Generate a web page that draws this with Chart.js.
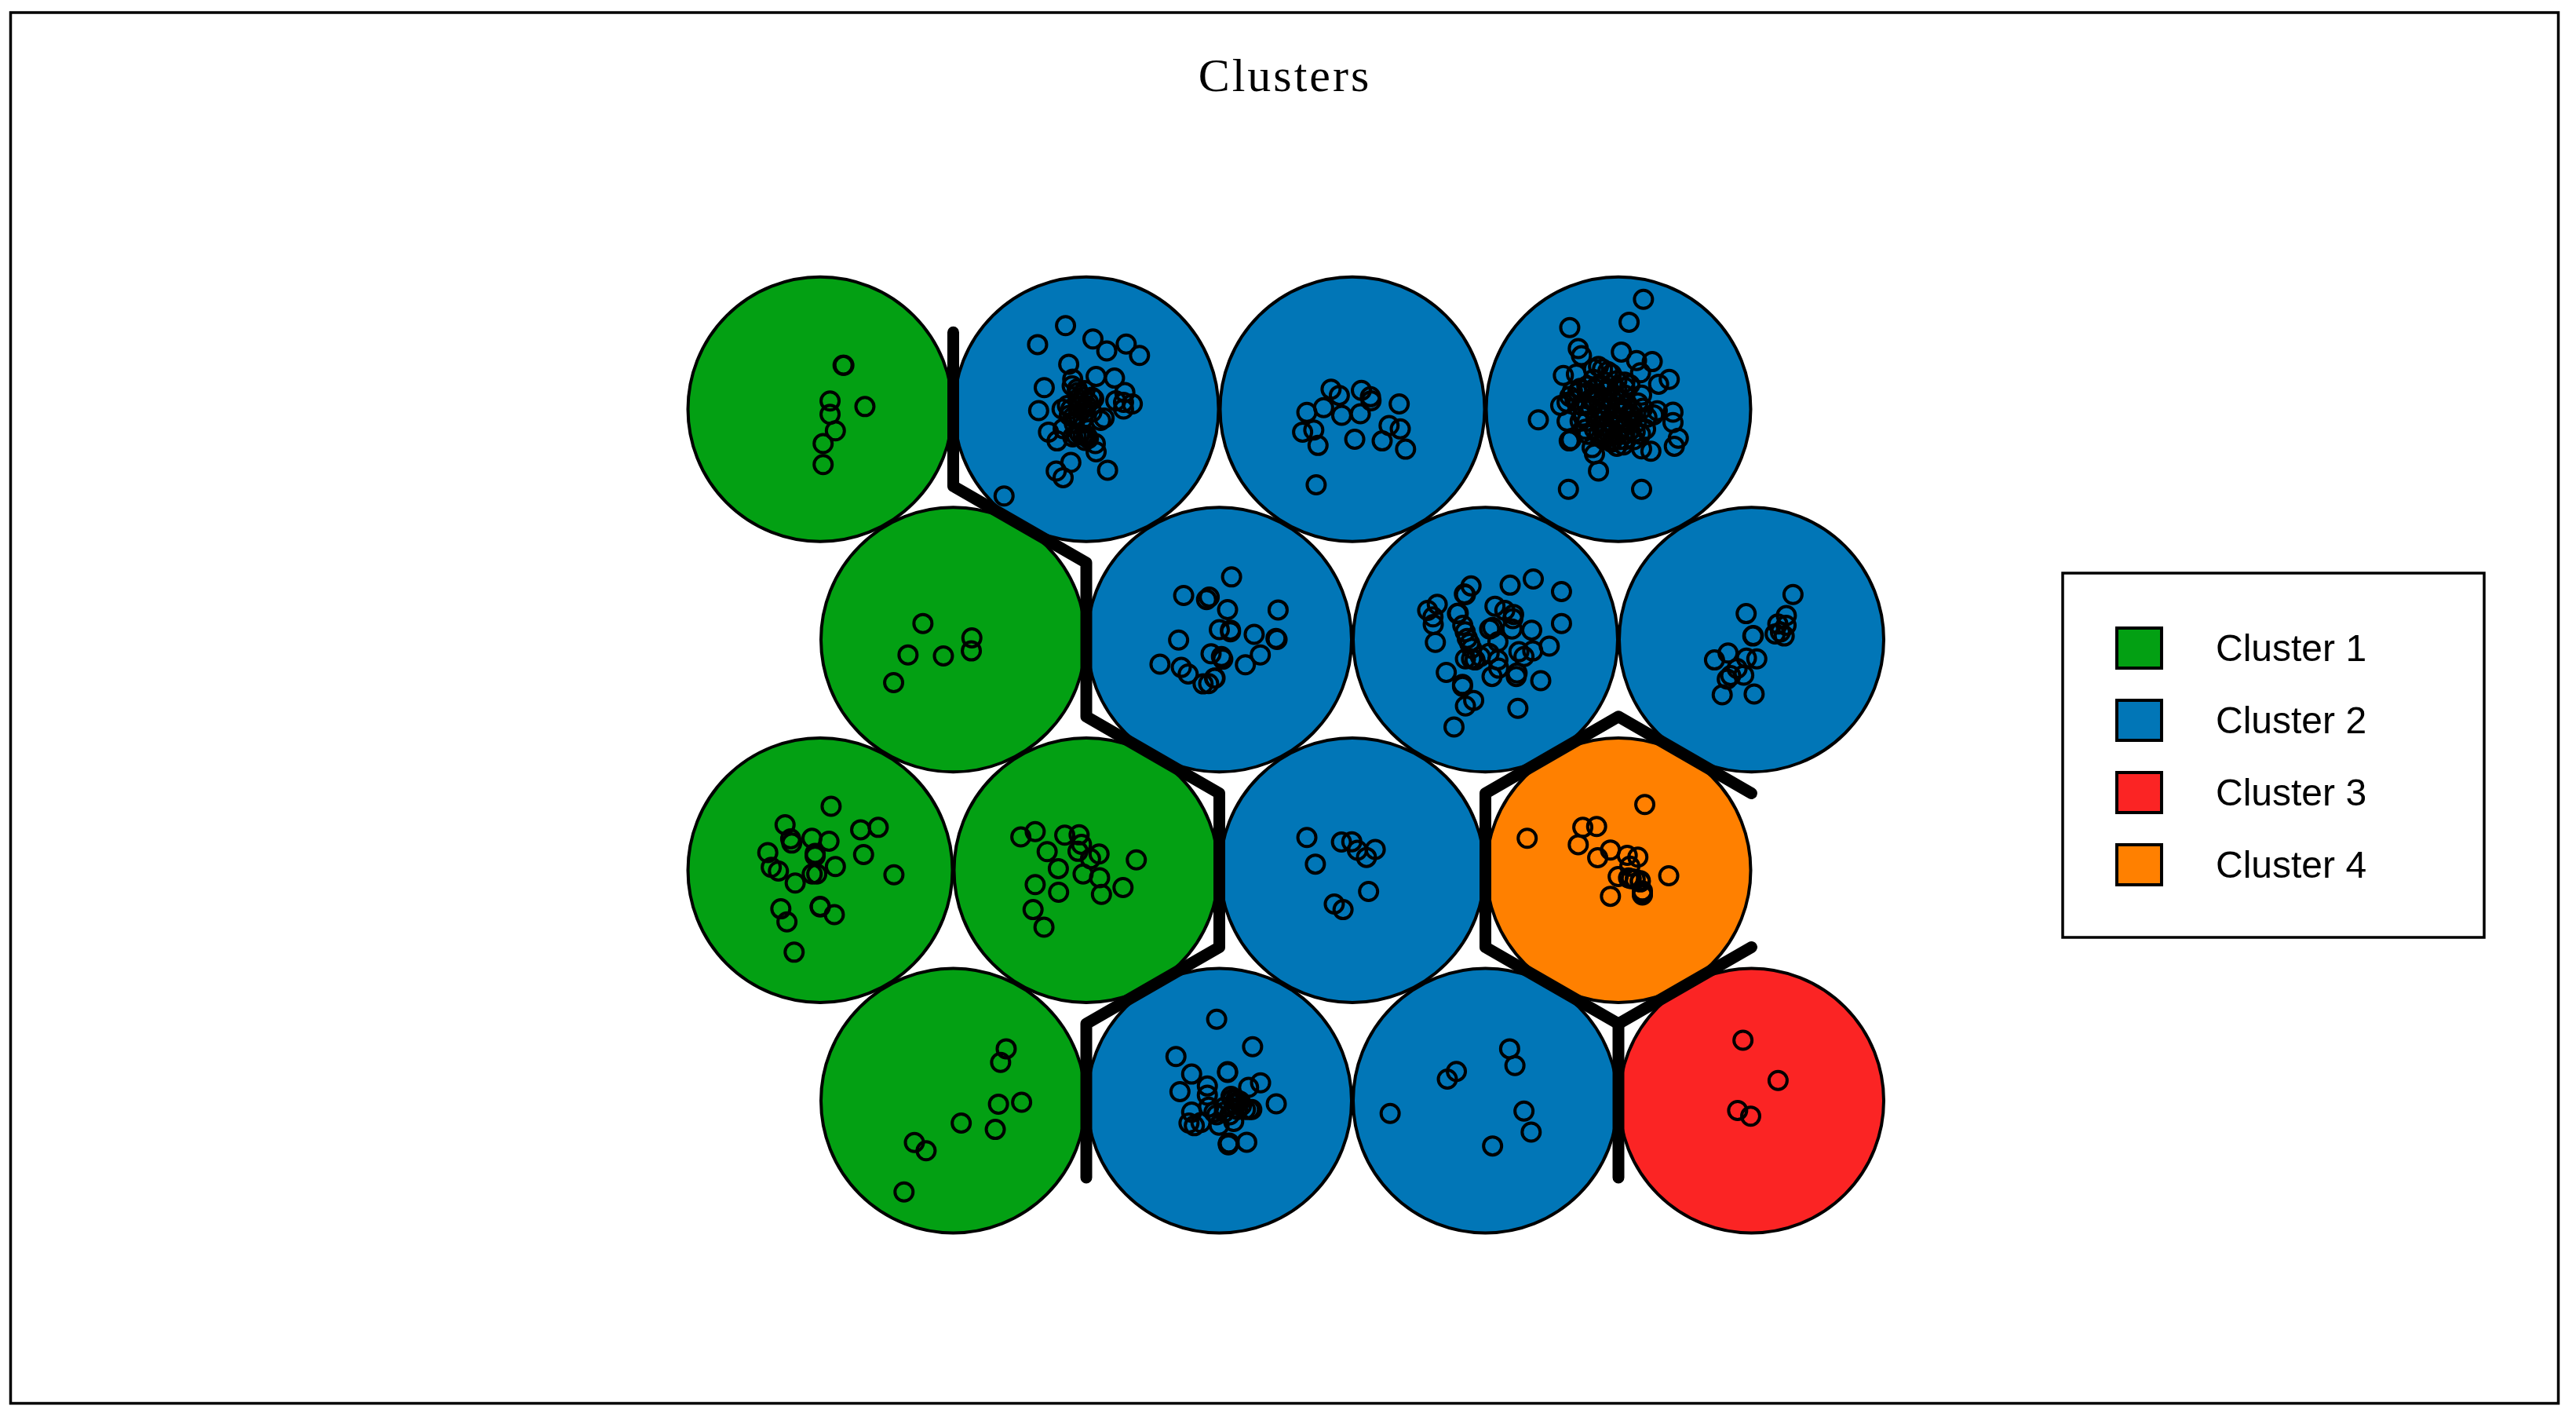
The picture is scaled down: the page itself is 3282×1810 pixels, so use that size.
<!DOCTYPE html>
<html>
<head>
<meta charset="utf-8">
<title>Clusters</title>
<script src="https://cdn.jsdelivr.net/npm/chart.js@4"></script>
<style>
  html, body { margin: 0; padding: 0; background: #fff; }
  canvas { display: block; }
</style>
</head>
<body>
<canvas id="som" width="3282" height="1810"></canvas>
<script>
// SOM grid, map units in hex coordinates
const unitX = [1, 2, 3, 4, 1.5, 2.5, 3.5, 4.5, 1, 2, 3, 4, 1.5, 2.5, 3.5, 4.5];
const unitY = [3.464, 3.464, 3.464, 3.464, 2.598, 2.598, 2.598, 2.598, 1.732, 1.732, 1.732, 1.732, 0.866, 0.866, 0.866, 0.866];
const unitCluster = [0, 1, 1, 1, 0, 1, 1, 1, 0, 0, 1, 3, 0, 1, 1, 2];

const clusterNames = ['Cluster 1', 'Cluster 2', 'Cluster 3', 'Cluster 4'];
const clusterColors = ['#03a013', '#0176b7', '#fb2424', '#ff8000'];

// cluster boundaries
const boundaryLeftX = [1.5, 1.5, 2, 2, 2.5, 2.5, 2, 2];
const boundaryLeftY = [3.753, 3.175, 2.887, 2.309, 2.021, 1.443, 1.155, 0.577];
const boundaryRightX = [4.5, 4, 3.5, 3.5, 4, 4.5];
const boundaryRightY = [2.021, 2.309, 2.021, 1.443, 1.155, 1.443];
const boundaryStemX = [4, 4];
const boundaryStemY = [1.155, 0.577];

// observations mapped to each unit
const samplesR1A = [[1.089,3.629],[1.086,3.629],[1.037,3.495],[1.037,3.445],[1.168,3.474],[1.057,3.383],[1.011,3.335],[1.011,3.256]];
const samplesR1B = [[1.922,3.778],[1.817,3.707],[2.025,3.728],[2.077,3.683],[2.150,3.709],[2.200,3.666],[1.934,3.633],[2.037,3.587],[2.106,3.581],[1.842,3.545],[1.947,3.552],[1.969,3.527],[1.821,3.459],[1.909,3.465],[1.942,3.465],[1.988,3.509],[2.021,3.509],[2.028,3.503],[1.982,3.478],[1.995,3.453],[2.008,3.490],[1.969,3.441],[1.949,3.434],[2.111,3.496],[2.145,3.527],[2.140,3.490],[2.140,3.465],[2.173,3.484],[2.067,3.431],[2.054,3.422],[1.988,3.428],[1.858,3.378],[1.913,3.391],[1.890,3.345],[1.962,3.366],[1.988,3.366],[2.001,3.366],[2.034,3.335],[2.037,3.304],[1.942,3.264],[1.887,3.232],[1.913,3.207],[2.080,3.235],[1.691,3.138],
  [1.949,3.577],[1.966,3.540],[1.995,3.534],[1.929,3.478],[1.936,3.441],[1.955,3.410],[1.975,3.490],[2.001,3.478],[2.021,3.453],[1.975,3.372],[1.995,3.347],[1.949,3.360],[2.008,3.354],[1.969,3.503],[1.988,3.465]];
const samplesR1C = [[2.920,3.539],[2.951,3.516],[2.892,3.470],[2.829,3.452],[2.855,3.386],[2.813,3.378],[2.871,3.328],[2.960,3.441],[3.030,3.447],[3.034,3.535],[3.068,3.511],[3.070,3.496],[3.176,3.484],[3.138,3.403],[3.180,3.390],[3.112,3.345],[3.009,3.351],[3.200,3.314],[2.864,3.180]];
const samplesR1D = [[4.094,3.877],[4.040,3.791],[3.817,3.771],[3.849,3.692],[3.861,3.665],[4.011,3.679],[3.925,3.625],[4.068,3.647],[4.127,3.643],[4.083,3.601],[3.793,3.591],[3.842,3.596],[4.191,3.576],[4.151,3.558],[3.960,3.606],[3.817,3.512],[4.087,3.517],[3.783,3.478],[3.807,3.490],[3.807,3.419],[3.699,3.424],[3.822,3.350],[3.815,3.345],[3.901,3.320],[3.910,3.296],[3.925,3.232],[3.812,3.163],[4.087,3.163],[4.205,3.453],[4.205,3.414],[4.225,3.355],[4.210,3.325],[4.087,3.315],[4.122,3.306],[3.994,3.325],[4.019,3.330],[4.146,3.458],[4.102,3.389],[4.132,3.443],[3.881,3.478],[3.876,3.389],[3.847,3.527],[3.881,3.551],[4.024,3.566],[3.974,3.596],[3.896,3.468],[3.866,3.438],[3.945,3.350],[3.974,3.340],[4.053,3.458],[3.965,3.537],[3.994,3.537],[4.024,3.517],[3.945,3.507],[3.974,3.502],[4.004,3.497],[4.033,3.483],[3.935,3.468],[3.965,3.468],[3.994,3.468],[4.024,3.458],[4.053,3.438],[3.945,3.434],[3.974,3.434],[4.004,3.429],[4.033,3.419],[4.068,3.414],[3.955,3.399],[3.984,3.399],[4.014,3.394],[4.043,3.384],[3.965,3.370],[3.994,3.370],[4.024,3.370],[3.979,3.350],[4.004,3.350],[3.935,3.399],[3.915,3.429],[3.910,3.497],
  [3.827,3.532],[3.856,3.542],[3.886,3.527],[3.910,3.542],[3.930,3.556],[3.950,3.566],[3.906,3.576],[3.940,3.615],[3.906,3.615],[3.837,3.497],[3.861,3.478],[3.896,3.502],[3.925,3.517],[3.950,3.532],[3.994,3.571],[4.043,3.556],[3.856,3.419],[3.881,3.419],[3.910,3.389],[3.886,3.370],[3.925,3.370],[3.945,3.375],[4.063,3.379],[4.083,3.370],[4.107,3.434],[4.092,3.468],[4.073,3.488],[4.024,3.546],[3.984,3.517],[4.014,3.468],[4.043,3.448],[3.994,3.419],[3.965,3.419],[4.024,3.350],[4.058,3.350]];
const samplesR2A = [[1.386,2.659],[1.570,2.605],[1.568,2.556],[1.330,2.541],[1.463,2.537],[1.276,2.437]];
const samplesR2B = [[2.366,2.764],[2.462,2.758],[2.452,2.749],[2.347,2.597],[2.469,2.545],[2.277,2.506],[2.357,2.494],[2.383,2.469],[2.439,2.432],[2.482,2.454],[2.508,2.535],[2.546,2.834],[2.531,2.711],[2.721,2.710],[2.500,2.636],[2.542,2.634],[2.542,2.628],[2.631,2.618],[2.713,2.603],[2.717,2.599],[2.654,2.541],[2.598,2.504],[2.513,2.525],[2.484,2.454],[2.460,2.433]];
const samplesR2C = [[3.446,2.800],[3.425,2.767],[3.421,2.770],[3.593,2.803],[3.680,2.826],[3.786,2.779],[3.786,2.659],[3.283,2.708],[3.319,2.731],[3.303,2.684],[3.304,2.655],[3.312,2.588],[3.395,2.696],[3.398,2.698],[3.415,2.652],[3.424,2.628],[3.432,2.603],[3.441,2.584],[3.448,2.566],[3.536,2.724],[3.573,2.708],[3.606,2.693],[3.603,2.677],[3.600,2.638],[3.516,2.638],[3.527,2.644],[3.547,2.590],[3.674,2.634],[3.740,2.574],[3.678,2.556],[3.645,2.535],[3.626,2.553],[3.619,2.473],[3.616,2.460],[3.708,2.444],[3.525,2.460],[3.550,2.491],[3.547,2.522],[3.514,2.547],[3.425,2.526],[3.448,2.526],[3.461,2.522],[3.481,2.535],[3.353,2.475],[3.414,2.430],[3.414,2.423],[3.456,2.370],[3.425,2.349],[3.622,2.340],[3.382,2.270]];
const samplesR2D = [[4.656,2.768],[4.631,2.689],[4.599,2.657],[4.630,2.652],[4.589,2.620],[4.623,2.612],[4.609,2.627],[4.480,2.696],[4.505,2.612],[4.507,2.614],[4.412,2.548],[4.361,2.522],[4.481,2.529],[4.520,2.526],[4.471,2.465],[4.422,2.463],[4.409,2.450],[4.390,2.391],[4.510,2.394],[4.446,2.490]];
const samplesR3A = [[1.041,1.972],[.868,1.903],[.889,1.850],[.893,1.834],[.969,1.852],[1.033,1.841],[1.152,1.884],[1.218,1.893],[.803,1.798],[1.163,1.791],[.981,1.795],[.981,1.785],[.816,1.743],[.843,1.729],[.906,1.684],[1.057,1.746],[.970,1.718],[.987,1.718],[1.277,1.715],[.852,1.587],[.875,1.538],[1.000,1.596],[1.000,1.594],[1.053,1.565],[.902,1.424]];
const samplesR3B = [[1.754,1.857],[1.808,1.877],[1.919,1.864],[1.973,1.865],[1.982,1.829],[1.969,1.803],[1.853,1.802],[2.048,1.793],[2.016,1.775],[1.895,1.738],[1.988,1.718],[2.050,1.704],[2.188,1.771],[2.138,1.667],[1.808,1.678],[1.896,1.649],[2.057,1.641],[1.800,1.584],[1.841,1.518]];
const samplesR3C = [[2.829,1.855],[2.861,1.755],[2.959,1.838],[2.998,1.839],[3.019,1.807],[3.086,1.810],[3.053,1.780],[3.061,1.652],[2.932,1.605],[2.965,1.584]];
const samplesR3D = [[4.099,1.979],[3.657,1.852],[3.866,1.893],[3.918,1.896],[3.849,1.828],[3.922,1.779],[3.970,1.808],[4.033,1.788],[4.073,1.781],[4.043,1.747],[3.999,1.708],[4.048,1.700],[4.063,1.698],[4.082,1.693],[4.090,1.654],[4.090,1.639],[3.970,1.634],[4.189,1.711],[4.038,1.703],[4.082,1.688],[4.090,1.644]];
const samplesR4A = [[1.699,1.061],[1.678,1.010],[1.757,.860],[1.670,.853],[1.530,.782],[1.658,.758],[1.354,.709],[1.398,.678],[1.315,.523]];
const samplesR4B = [[2.490,1.172],[2.625,1.069],[2.337,1.032],[2.396,.966],[2.352,.900],[2.455,.921],[2.455,.887],[2.531,.975],[2.531,.972],[2.610,.916],[2.655,.933],[2.714,.854],[2.396,.823],[2.386,.782],[2.406,.772],[2.431,.784],[2.490,.813],[2.499,.774],[2.554,.788],[2.549,.872],[2.559,.852],[2.568,.833],[2.613,.833],[2.622,.833],[2.534,.705],[2.534,.700],[2.603,.710],[2.519,.823],[2.539,.813],[2.578,.864],
  [2.544,.882],[2.563,.872],[2.583,.847],[2.554,.838],[2.598,.833],[2.568,.862],[2.519,.842],[2.480,.823],[2.460,.842],[2.534,.705],[2.537,.707]];
const samplesR4C = [[3.357,.947],[3.391,.976],[3.591,1.061],[3.611,.998],[3.142,.818],[3.645,.827],[3.672,.748],[3.527,.696]];
const samplesR4D = [[4.468,1.093],[4.600,.942],[4.448,.829],[4.497,.808]];

const allSamples = [samplesR1A, samplesR1B, samplesR1C, samplesR1D, samplesR2A, samplesR2B, samplesR2C, samplesR2D,
  samplesR3A, samplesR3B, samplesR3C, samplesR3D, samplesR4A, samplesR4B, samplesR4C, samplesR4D].flat();

const toPoints = (xs, ys) => xs.map((x, i) => ({ x, y: ys[i] }));
const boundary = (xs, ys) => ({
  data: toPoints(xs, ys),
  showLine: true,
  pointRadius: 0,
  borderColor: '#000',
  borderWidth: 15,
  borderCapStyle: 'round',
  borderJoinStyle: 'round',
  clip: false,
  order: 0
});

// frame round the figure and the boxed legend on the right
const figurePlugin = {
  id: 'figure',
  beforeDraw(chart) {
    const ctx = chart.ctx;
    ctx.save();
    ctx.fillStyle = '#fff';
    ctx.fillRect(0, 0, chart.width, chart.height);
    ctx.restore();
    ctx.letterSpacing = '3px';
  },
  beforeDatasetsDraw(chart) {
    chart.ctx.letterSpacing = '0px';
  },
  afterDraw(chart) {
    const ctx = chart.ctx;
    ctx.save();
    ctx.strokeStyle = '#000';
    ctx.lineWidth = 3.5;
    ctx.strokeRect(13.5, 16, 3246, 1771.5);
    ctx.strokeRect(2628, 730, 537, 464);

    ctx.font = '48px "Liberation Sans"';
    ctx.textBaseline = 'middle';
    ctx.textAlign = 'left';
    clusterNames.forEach((name, i) => {
      const top = 800 + i * 92;
      ctx.fillStyle = clusterColors[i];
      ctx.fillRect(2697, top, 57, 51);
      ctx.lineWidth = 4;
      ctx.strokeRect(2697, top, 57, 51);
      ctx.fillStyle = '#000';
      ctx.fillText(name, 2823, top + 29);
    });
    ctx.restore();
  }
};

new Chart(document.getElementById('som'), {
  type: 'scatter',
  plugins: [figurePlugin],
  data: {
    datasets: [
      boundary(boundaryLeftX, boundaryLeftY),
      boundary(boundaryRightX, boundaryRightY),
      boundary(boundaryStemX, boundaryStemY),
      {
        label: 'Observations',
        data: allSamples.map(p => ({ x: p[0], y: p[1] })),
        pointRadius: 11.5,
        pointBorderWidth: 4,
        pointBorderColor: '#000',
        pointBackgroundColor: 'rgba(0,0,0,0)',
        clip: false,
        order: 1
      },
      {
        label: 'Map units',
        data: toPoints(unitX, unitY),
        pointRadius: 168.5,
        pointBorderWidth: 4,
        pointBorderColor: '#000',
        pointBackgroundColor: unitCluster.map(c => clusterColors[c]),
        clip: false,
        order: 2
      }
    ]
  },
  options: {
    responsive: false,
    animation: false,
    events: [],
    layout: { autoPadding: false, padding: { left: 14, top: 16, right: 22, bottom: 22 } },
    scales: {
      x: { type: 'linear', display: false, min: -2.0413, max: 7.5339 },
      y: { type: 'linear', display: false, min: -0.2726, max: 4.5975 }
    },
    plugins: {
      legend: { display: false },
      tooltip: { enabled: false },
      title: {
        display: true,
        text: 'Clusters',
        color: '#000',
        font: { family: '"Liberation Serif"', size: 60, weight: 'normal', lineHeight: 1.1 },
        padding: { top: 51, bottom: 4 }
      }
    }
  }
});
</script>
</body>
</html>
